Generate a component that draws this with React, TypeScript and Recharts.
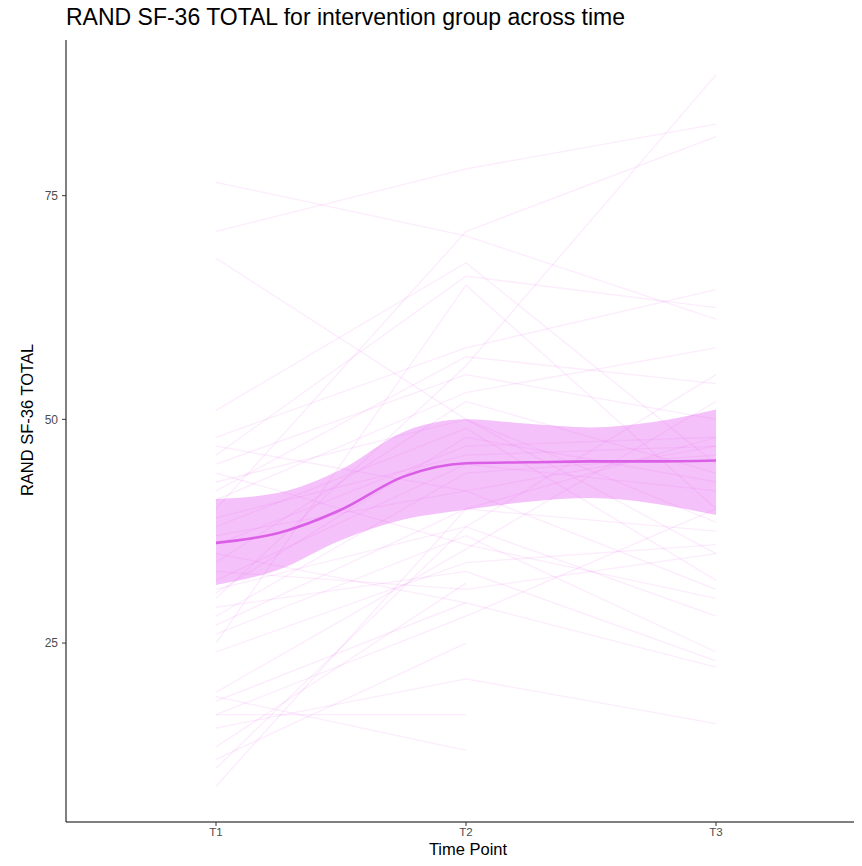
import { ComposedChart, Line, Area, XAxis, YAxis } from 'recharts';

const timeLabels = ['T1', 'T2', 'T3'];
const timePositions = [1, 2, 3];

// one entry per participant, null = no score at that time point
const t1Scores = [76.5, 71, 40, 68, 30, 51, 46, 25, 48, 42, 45, 34, 43, 38, 36, 32, 28, 47, 27, 31, 26, 19.5, 29, 33, 18.5, 17, 12, 15.5, 17, 19, 9, 13.4, 11, 44, 35, 39, 30.6, 41, 37, 24];
const t2Scores = [70.5, 78, 71, 50, 56, 67.5, 66, 65, 58, 57, 55, 52, 50, 49, 47, 45, 44, 42, 40, 38, 37, 35.5, 33, 31, 29.5, 28, 25, 21, 17, 13, 40, 31.7, 38, 36, 29.5, 46, 48, 53, 42, 34];
const t3Scores = [61.2, 83, 81.6, 35, 88.5, 45, 62.5, 40, 64.5, 54, 50, 44, 38.5, 32, 48, 42, 46, 31, 37.5, 28, 24, 52, 23, 35, 22.3, 40, null, 16, null, null, 48, null, 55, 30, null, 47, 43, 58, 47, 36];

// smoothed group trend and its confidence band
const smoothX = [1, 1.25, 1.5, 1.75, 2, 2.25, 2.5, 2.75, 3];
const smoothMean = [36.2, 37.3, 39.9, 43.6, 45.1, 45.2, 45.3, 45.3, 45.4];
const smoothLow = [31.5, 33.2, 36.5, 38.8, 39.9, 40.8, 41.2, 40.6, 39.3];
const smoothHigh = [41.1, 41.8, 44.4, 48.6, 50.0, 49.5, 49.1, 49.7, 51.1];

const smoothData = smoothX.map((x, i) => ({
  x,
  mean: smoothMean[i],
  band: [smoothLow[i], smoothHigh[i]],
}));

const subjects = t1Scores.map((_, i) =>
  [t1Scores[i], t2Scores[i], t3Scores[i]]
    .map((y, j) => ({ x: timePositions[j], y }))
    .filter((p) => p.y !== null)
);

const PINK = '#E76BF3';
const font = '"Liberation Sans", Arial, sans-serif';

export default function App() {
  return (
    <div style={{ position: 'relative', width: 862, height: 866, margin: -8, overflow: 'hidden', background: '#fff' }}>
      <ComposedChart
        width={870}
        height={866}
        data={smoothData}
        margin={{ top: 40, right: 4, bottom: 0, left: 0 }}
      >
        <XAxis
          dataKey="x"
          type="number"
          domain={[0.4, 3.6]}
          ticks={timePositions}
          tickFormatter={(v) => timeLabels[v - 1]}
          allowDataOverflow
          height={44}
          stroke="#000"
          tickLine={{ stroke: '#333' }}
          tickSize={4}
          tickMargin={2}
          tick={{ fill: '#4D4D4D', fontSize: 11.5, fontFamily: font }}
        />
        <YAxis
          type="number"
          domain={[5, 92.4]}
          ticks={[25, 50, 75]}
          allowDataOverflow
          width={66}
          stroke="#000"
          tickLine={{ stroke: '#333' }}
          tickSize={4}
          tickMargin={4}
          tick={{ fill: '#4D4D4D', fontSize: 12, fontFamily: font }}
        />
        {subjects.map((pts, i) => (
          <Line
            key={`subject-${i}`}
            data={pts}
            dataKey="y"
            type="linear"
            stroke={PINK}
            strokeOpacity={0.13}
            strokeWidth={1.3}
            dot={false}
            activeDot={false}
            isAnimationActive={false}
          />
        ))}
        <Area
          dataKey="band"
          type="monotone"
          stroke="none"
          fill={PINK}
          fillOpacity={0.42}
          isAnimationActive={false}
        />
        <Line
          dataKey="mean"
          type="monotone"
          stroke="#DB5FE6"
          strokeWidth={2.6}
          dot={false}
          activeDot={false}
          isAnimationActive={false}
        />
      </ComposedChart>
      <svg
        width={862}
        height={866}
        style={{ position: 'absolute', left: 0, top: 0, pointerEvents: 'none' }}
        fontFamily={font}
      >
        <text x={66} y={25} fontSize={23} fill="#000">
          RAND SF-36 TOTAL for intervention group across time
        </text>
        <text x={468} y={855} fontSize={16.5} fill="#000" textAnchor="middle">
          Time Point
        </text>
        <text x={33} y={420} fontSize={16.5} fill="#000" textAnchor="middle" transform="rotate(-90, 33, 420)">
          RAND SF-36 TOTAL
        </text>
      </svg>
    </div>
  );
}
